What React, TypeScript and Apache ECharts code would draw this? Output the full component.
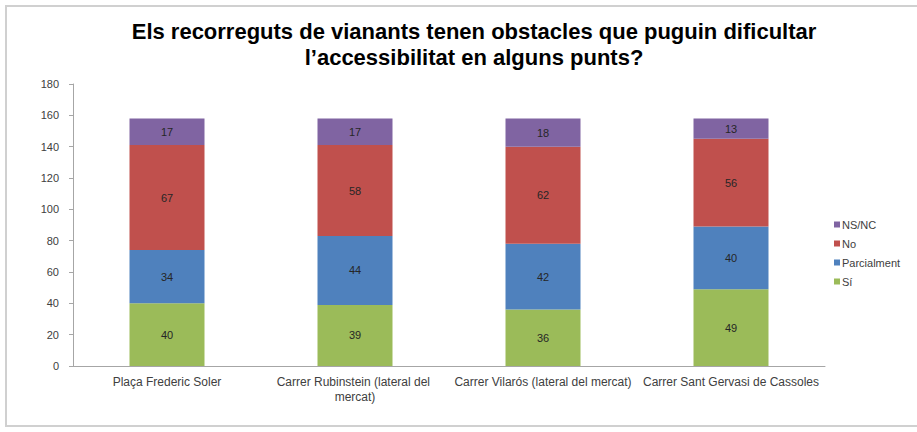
import React, { useEffect, useRef } from "react";
import * as echarts from "echarts";

const categories = [
  "Plaça Frederic Soler",
  "Carrer Rubinstein (lateral del mercat)",
  "Carrer Vilarós (lateral del mercat)",
  "Carrer Sant Gervasi de Cassoles",
];
const si = [40, 39, 36, 49];
const parcialment = [34, 44, 42, 40];
const no = [67, 58, 62, 56];
const nsnc = [17, 17, 18, 13];
const titleText = "Els recorreguts de vianants tenen obstacles que puguin dificultar\nl’accessibilitat en alguns punts?";

export default function App() {
  const ref = useRef<HTMLDivElement>(null);
  useEffect(() => {
    document.body.style.margin = "0";
    const chart = echarts.init(ref.current!, null, { renderer: "svg" });
    const font = "Liberation Sans, Arial, sans-serif";
    const mk = (name: string, data: number[], color: string) => ({
      name,
      type: "bar",
      stack: "total",
      data,
      barWidth: 75,
      itemStyle: { color },
      label: { show: true, position: "inside", color: "#262626", fontSize: 11, fontFamily: font },
    });
    chart.setOption({
      animation: false,
      backgroundColor: "#ffffff",
      textStyle: { fontFamily: font },
      title: {
        text: titleText,
        left: 469,
        textAlign: "center",
        top: 13,
        textStyle: { fontSize: 22, fontWeight: "bold", color: "#000", lineHeight: 26, fontFamily: font },
      },
      graphic: [
        {
          type: "rect",
          shape: { x: 6, y: 6, width: 1000, height: 420 },
          style: { fill: "none", stroke: "#d0d0d0", lineWidth: 2 },
          silent: true,
        },
      ],
      legend: {
        orient: "vertical",
        left: 829,
        top: 214,
        itemWidth: 6,
        itemHeight: 6,
        itemGap: 8,
        icon: "rect",
        data: ["NS/NC", "No", "Parcialment", "Sí"],
        textStyle: { fontSize: 11, color: "#404040", padding: [0, 0, 0, -3] },
      },
      grid: { left: 73, right: 92, top: 84, bottom: 66, containLabel: false },
      xAxis: {
        type: "category",
        data: categories,
        axisLine: { lineStyle: { color: "#a6a6a6" } },
        axisTick: { show: false },
        axisLabel: {
          interval: 0,
          color: "#404040",
          fontSize: 12,
          margin: 8,
          width: 186,
          overflow: "break",
          lineHeight: 15,
        },
      },
      yAxis: {
        type: "value",
        min: 0,
        max: 180,
        interval: 20,
        splitLine: { show: false },
        axisLine: { show: true, lineStyle: { color: "#a6a6a6" } },
        axisTick: { show: true, length: 4, lineStyle: { color: "#a6a6a6" } },
        axisLabel: { color: "#404040", fontSize: 11, margin: 14 },
      },
      series: [
        mk("Sí", si, "#9BBB59"),
        mk("Parcialment", parcialment, "#4F81BD"),
        mk("No", no, "#C0504D"),
        mk("NS/NC", nsnc, "#8064A2"),
      ],
    });
    return () => chart.dispose();
  }, []);
  return <div ref={ref} style={{ width: 917, height: 432 }} />;
}
